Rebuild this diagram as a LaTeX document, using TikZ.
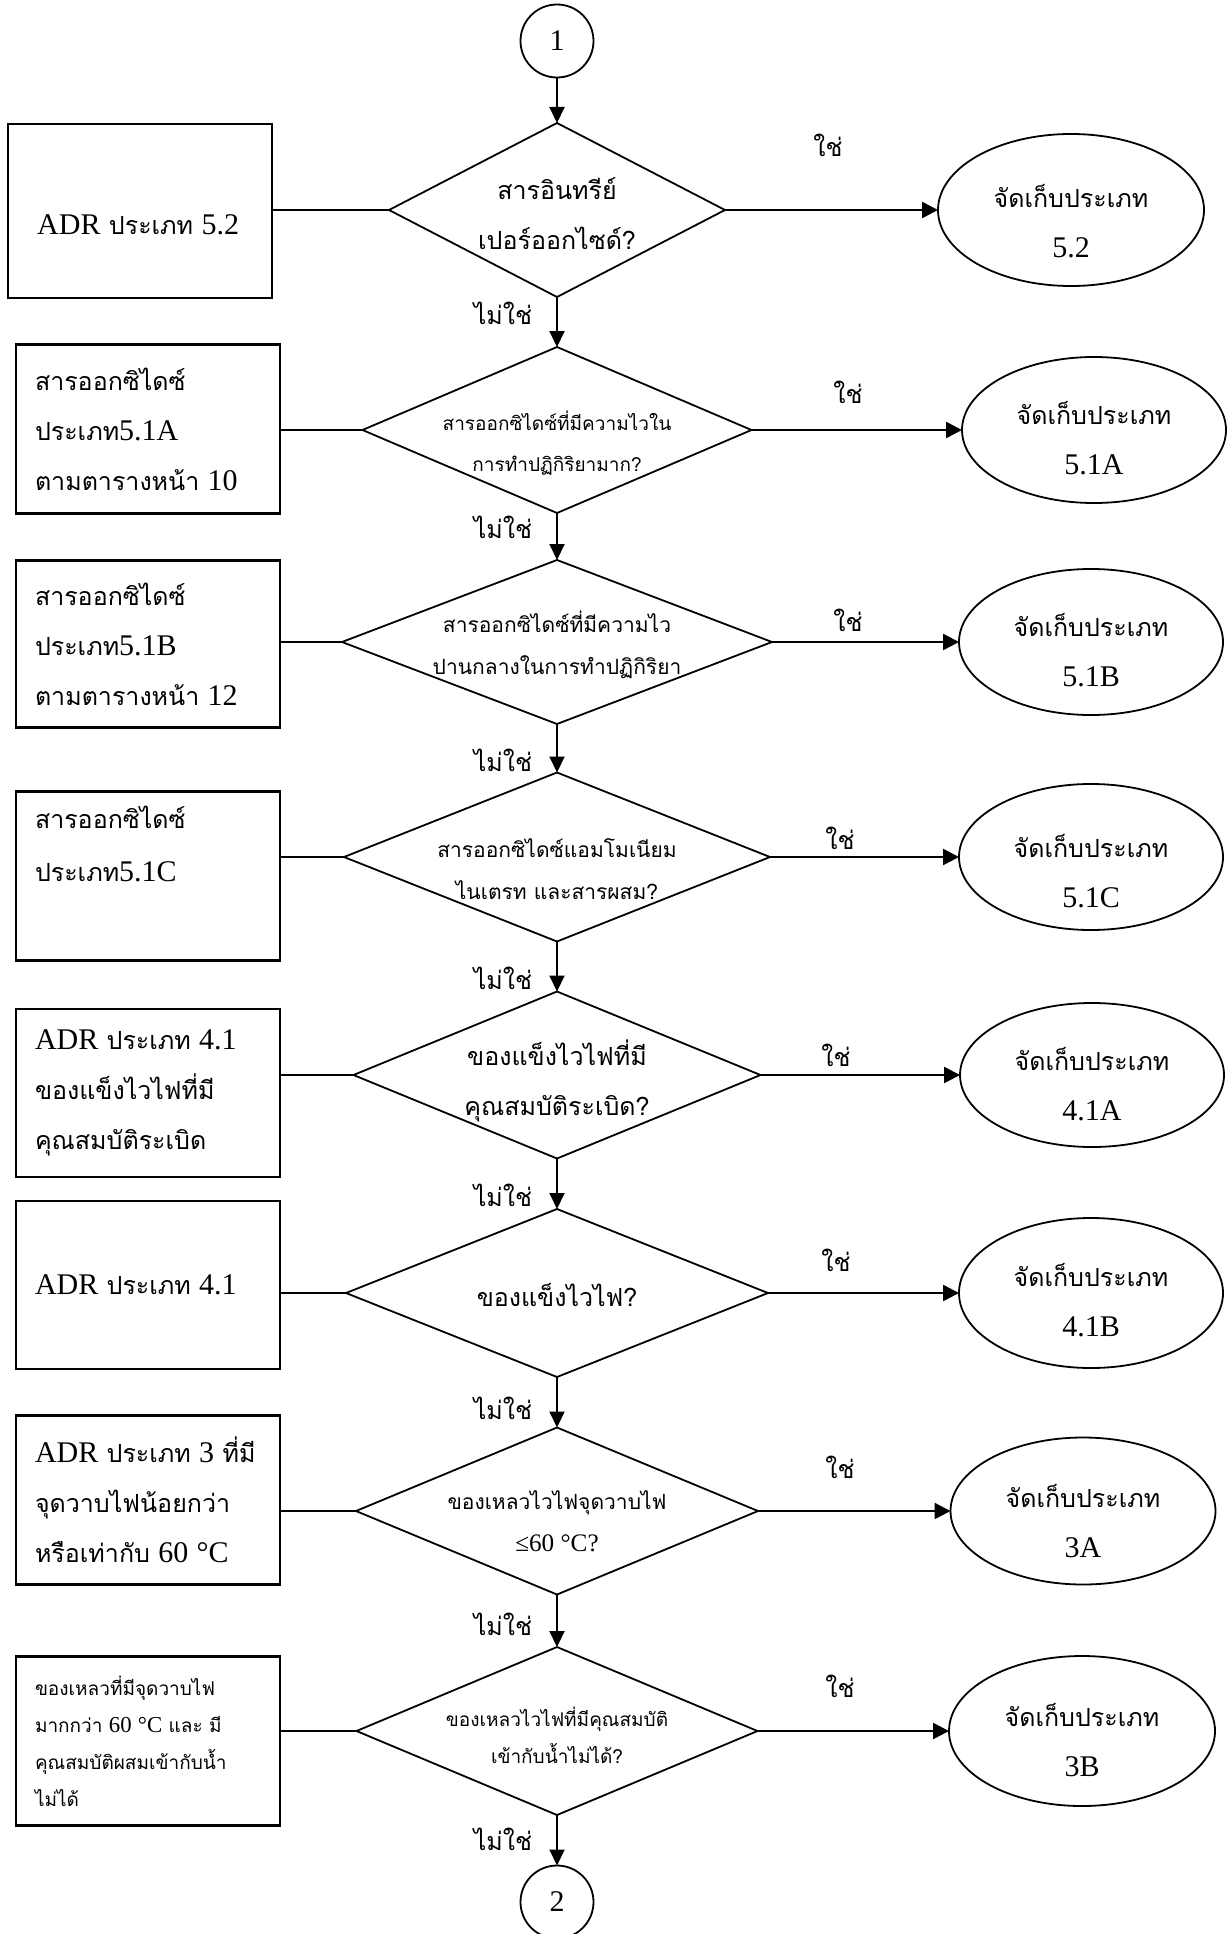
\documentclass[tikz,border=0pt]{standalone}
\usepackage{fontspec}
\setmainfont[Script=Thai]{Loma}
\newfontfamily\latin[Scale=1.2]{Liberation Serif}
\newcommand\la[1]{{\latin #1}}
\newcommand\fA{\fontsize{25pt}{50pt}\selectfont}
\newcommand\fB{\fontsize{21pt}{42pt}\selectfont}
\newcommand\fD{\fontsize{19pt}{41pt}\selectfont}
\newcommand\fC{\fontsize{19pt}{37pt}\selectfont}
\usetikzlibrary{shapes.geometric,arrows.meta}
\begin{document}
\begin{tikzpicture}[x=1pt,y=-1pt,
  box/.style={draw, line width=2.5pt, rectangle, minimum width=264pt, minimum height=169pt,
    text width=226pt, inner xsep=19pt, inner ysep=0pt, align=left, outer sep=0pt, font=\fA},
  btext/.style={anchor=west, inner sep=0pt, align=left, font=\fA},
  dia/.style={draw, diamond, line width=1.8pt, inner sep=0pt, outer sep=0pt},
  dtext/.style={align=center, inner sep=0pt, font=\fA},
  ell/.style={draw, ellipse, line width=1.8pt, inner sep=0pt, outer sep=0pt,
    minimum width=264pt, minimum height=146pt},
  etext/.style={align=center, inner sep=0pt, font=\fA},
  conn/.style={draw, circle, line width=1.8pt, inner sep=0pt, outer sep=0pt, minimum size=73pt, font=\fA},
  lbl/.style={inner sep=0pt, font=\fA},
  yesarrow/.style={-{Triangle[length=16pt,width=16pt]}, line width=2.5pt},
  noarrow/.style={-{Triangle[length=16pt,width=15pt]}, line width=2pt},
  link/.style={line width=2.5pt}
]
\useasboundingbox (0,0) rectangle (1226,1934);

% connectors 1 and 2
\node[conn] (c1) at (557,41) {\la{1}};
\node[conn] (c2) at (557,1902) {\la{2}};

% row 1
\node[box, minimum height=174pt] (b1) at (140,211) {};
\node[btext] (bt1) at (37,225) {\la{ADR} ประเภท \la{5.2}};
\node[dia, minimum width=336pt, minimum height=174pt] (d1) at (557,210) {};
\node[dtext] (t1) at (557,214) {สารอินทรีย์\\เปอร์ออกไซด์?};
\node[ell, minimum width=266pt, minimum height=152pt] (e1) at (1071,210) {};
\node[etext] (et1) at (1071,221) {จัดเก็บประเภท\\\la{5.2}};

% row 2
\node[box] (b2) at (148,429) {สารออกซิไดซ์\\ประเภท\la{5.1A}\\ตามตารางหน้า \la{10}};
\node[dia, minimum width=389pt, minimum height=166pt] (d2) at (557,430) {};
\node[dtext, font=\fD] (t2) at (557,443) {สารออกซิไดซ์ที่มีความไวใน\\การทำปฏิกิริยามาก?};
\node[ell] (e2) at (1094,430) {};
\node[etext] (et2) at (1094,438) {จัดเก็บประเภท\\\la{5.1A}};

% row 3
\node[box, minimum height=167pt] (b3) at (148,644) {สารออกซิไดซ์\\ประเภท\la{5.1B}\\ตามตารางหน้า \la{12}};
\node[dia, minimum width=430pt, minimum height=164pt] (d3) at (557,642) {};
\node[dtext, font=\fB] (t3) at (557,645) {สารออกซิไดซ์ที่มีความไว\\ปานกลางในการทำปฏิกิริยา};
\node[ell] (e3) at (1091,642) {};
\node[etext] (et3) at (1091,650) {จัดเก็บประเภท\\\la{5.1B}};

% row 4
\node[box] (b4) at (148,876) {สารออกซิไดซ์\\[3pt]ประเภท\la{5.1C}\\\strut};
\node[dia, minimum width=426pt, minimum height=169pt] (d4) at (557,857) {};
\node[dtext, font=\fB] (t4) at (557,869) {สารออกซิไดซ์แอมโมเนียม\\ไนเตรท และสารผสม?};
\node[ell] (e4) at (1091,857) {};
\node[etext] (et4) at (1091,871) {จัดเก็บประเภท\\\la{5.1C}};

% row 5
\node[box, minimum height=168pt] (b5) at (148,1093) {\la{ADR} ประเภท \la{4.1}\\ของแข็งไวไฟที่มี\\คุณสมบัติระเบิด};
\node[dia, minimum width=407pt, minimum height=167pt] (d5) at (557,1075) {};
\node[dtext] (t5) at (557,1081) {ของแข็งไวไฟที่มี\\คุณสมบัติระเบิด?};
\node[ell, minimum height=144pt] (e5) at (1092,1075) {};
\node[etext] (et5) at (1092,1084) {จัดเก็บประเภท\\\la{4.1A}};

% row 6
\node[box, minimum height=168pt] (b6) at (148,1285) {\la{ADR} ประเภท \la{4.1}};
\node[dia, minimum width=422pt, minimum height=168pt] (d6) at (557,1293) {};
\node[dtext] (t6) at (557,1295) {ของแข็งไวไฟ?};
\node[ell, minimum height=150pt] (e6) at (1091,1293) {};
\node[etext] (et6) at (1091,1300) {จัดเก็บประเภท\\\la{4.1B}};

% row 7
\node[box] (b7) at (148,1500) {\la{ADR} ประเภท \la{3} ที่มี\\จุดวาบไฟน้อยกว่า\\หรือเท่ากับ \la{60 °C}};
\node[dia, minimum width=402pt, minimum height=167pt] (d7) at (557,1511) {};
\node[dtext, font=\fB] (t7) at (557,1521) {ของเหลวไวไฟจุดวาบไฟ\\\la{≤60 °C?}};
\node[ell, minimum width=265pt, minimum height=147pt] (e7) at (1083,1511) {};
\node[etext] (et7) at (1083,1521) {จัดเก็บประเภท\\\la{3A}};

% row 8
\node[box, font=\fC] (b8) at (148,1741) {ของเหลวที่มีจุดวาบไฟ\\มากกว่า \la{60 °C} และ มี\\คุณสมบัติผสมเข้ากับน้ำ\\ไม่ได้};
\node[dia, minimum width=401pt, minimum height=168pt] (d8) at (557,1731) {};
\node[dtext, font=\fC] (t8) at (557,1735) {ของเหลวไวไฟที่มีคุณสมบัติ\\เข้ากับน้ำไม่ได้?};
\node[ell, minimum width=266pt, minimum height=150pt] (e8) at (1082,1731) {};
\node[etext] (et8) at (1082,1740) {จัดเก็บประเภท\\\la{3B}};

% box-to-diamond links and yes arrows
\foreach \i in {1,...,8} {
  \draw[link] (d\i.west -| b\i.east) -- (d\i.west);
  \draw[yesarrow] (d\i.east) -- (e\i.west);
}

% no arrows
\draw[noarrow] (c1.south) -- (d1.north);
\foreach \i/\j in {1/2,2/3,3/4,4/5,5/6,6/7,7/8} {
  \draw[noarrow] (d\i.south) -- (d\j.north);
}
\draw[noarrow] (d8.south) -- (c2.north);

% yes labels
\node[lbl] (y1) at (828,145) {ใช่};
\node[lbl] (y2) at (848,392) {ใช่};
\node[lbl] (y3) at (848,620) {ใช่};
\node[lbl] (y4) at (840,838) {ใช่};
\node[lbl] (y5) at (836,1055) {ใช่};
\node[lbl] (y6) at (836,1260) {ใช่};
\node[lbl] (y7) at (840,1467) {ใช่};
\node[lbl] (y8) at (840,1686) {ใช่};

% no labels
\node[lbl] (n1) at (503,313) {ไม่ใช่};
\node[lbl] (n2) at (503,527) {ไม่ใช่};
\node[lbl] (n3) at (503,760) {ไม่ใช่};
\node[lbl] (n4) at (503,978) {ไม่ใช่};
\node[lbl] (n5) at (503,1195) {ไม่ใช่};
\node[lbl] (n6) at (503,1408) {ไม่ใช่};
\node[lbl] (n7) at (503,1624) {ไม่ใช่};
\node[lbl] (n8) at (503,1839) {ไม่ใช่};
\end{tikzpicture}
\end{document}
